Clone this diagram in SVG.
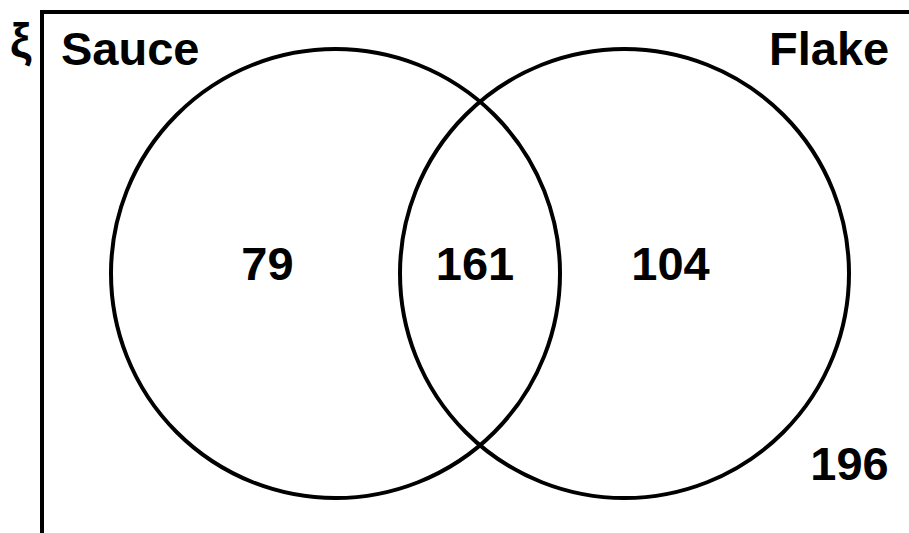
<svg xmlns="http://www.w3.org/2000/svg" width="909" height="533" viewBox="0 0 909 533">
<style>
.ln{fill:none;stroke:#000;stroke-width:4}
.t{font-family:"Liberation Sans",Arial,sans-serif;font-weight:bold;font-size:47px;fill:#000}
.n{text-anchor:middle}
</style>
<rect width="909" height="533" fill="#fff"/>
<g id="universe">
<path class="ln" d="M42,535 V12 H911"/>
<text class="t" x="10" y="57" style="font-size:48px">ξ</text>
<text class="t n" x="849.5" y="480">196</text>
</g>
<g id="sauce">
<circle class="ln" cx="335.5" cy="273.5" r="224.5"/>
<text class="t" x="61" y="65">Sauce</text>
<text class="t n" x="267.5" y="280">79</text>
</g>
<g id="flake">
<circle class="ln" cx="624.5" cy="273.5" r="224.5"/>
<text class="t" x="769" y="65">Flake</text>
<text class="t n" x="670.5" y="280">104</text>
</g>
<g id="intersection">
<text class="t n" x="475" y="280">161</text>
</g>
<g id="connectors"></g>
</svg>
